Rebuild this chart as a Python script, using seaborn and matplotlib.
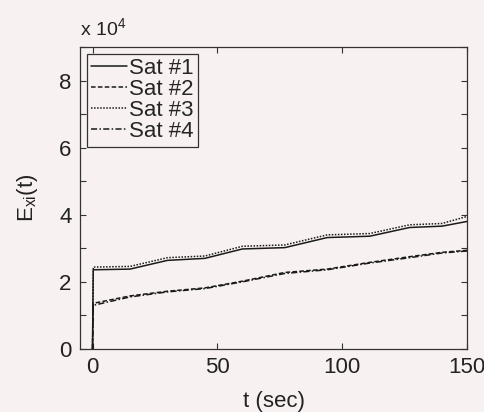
import numpy as np
import pandas as pd
import matplotlib
matplotlib.use("Agg")
import matplotlib.pyplot as plt
import seaborn as sns
from matplotlib.ticker import FixedLocator, FuncFormatter

# --- data (values in units of 1e4) ---
t = [0, 0.3, 15, 30, 45, 60, 77, 94, 111, 127, 140, 150]
sat1 = [0, 2.36, 2.38, 2.64, 2.70, 2.98, 3.02, 3.32, 3.36, 3.62, 3.66, 3.80]
sat2 = [0, 1.36, 1.58, 1.72, 1.82, 2.02, 2.28, 2.38, 2.58, 2.75, 2.88, 2.94]
sat3 = [0, 2.44, 2.46, 2.72, 2.77, 3.06, 3.10, 3.40, 3.44, 3.70, 3.74, 3.95]
sat4 = [0, 1.30, 1.55, 1.70, 1.80, 2.00, 2.25, 2.36, 2.56, 2.72, 2.86, 2.92]
labels = ["Sat #1", "Sat #2", "Sat #3", "Sat #4"]
scale = 1e4

rows = []
for lab, vals in zip(labels, [sat1, sat2, sat3, sat4]):
    for ti, v in zip(t, vals):
        rows.append({"t": ti, "E": v * scale, "sat": lab})
df = pd.DataFrame(rows)

sns.set_style("ticks")
bg = "#f8f1f2"
fam = ["Liberation Sans", "DejaVu Sans"]
plt.rcParams["font.family"] = fam
plt.rcParams["mathtext.default"] = "regular"

fig = plt.figure(figsize=(4.85, 4.12), dpi=100, facecolor=bg)
ax = fig.add_axes([0.165, 0.153, 0.798, 0.733])
ax.set_facecolor(bg)

sns.lineplot(data=df, x="t", y="E", style="sat", hue="sat",
             palette=["#1a1a1a"] * 4,
             dashes=["", (3, 1.5), (1, 1), (4, 1.5, 1, 1.5)],
             linewidth=1.1, ax=ax, sort=False, estimator=None)

ax.set_xlim(-5, 150)
ax.set_ylim(0, 9e4)
ax.xaxis.set_major_locator(FixedLocator([0, 50, 100, 150]))
ax.yaxis.set_major_locator(FixedLocator([0, 2e4, 4e4, 6e4, 8e4]))
ax.yaxis.set_minor_locator(FixedLocator([1e4, 3e4, 5e4, 7e4, 9e4]))
ax.yaxis.set_major_formatter(FuncFormatter(lambda v, p: f"{v/scale:g}"))
ax.tick_params(which="both", direction="in", top=True, right=True,
               length=4, width=0.8, color="#333333", labelsize=16,
               labelcolor="#222222", pad=6)
for s in ax.spines.values():
    s.set_visible(True)
    s.set_color("#333333")
    s.set_linewidth(0.9)

ax.set_xlabel("t (sec)", fontsize=16, color="#222222", labelpad=9)
ax.set_ylabel("E$_{xi}$(t)", fontsize=16, color="#222222", labelpad=14)
ax.text(0.0, 1.025, "x 10$^{4}$", transform=ax.transAxes, fontsize=14,
        color="#222222", ha="left", va="bottom")

h, l = ax.get_legend_handles_labels()
leg = ax.legend(h, l, loc="upper left", fontsize=16, frameon=True,
                fancybox=False, edgecolor="#333333", facecolor=bg,
                framealpha=1, handlelength=1.6, handletextpad=0.1,
                labelspacing=0.0, borderpad=0.2, borderaxespad=0.3)
leg.get_frame().set_linewidth(0.9)

fig.savefig("out.png", dpi=100, facecolor=bg)
